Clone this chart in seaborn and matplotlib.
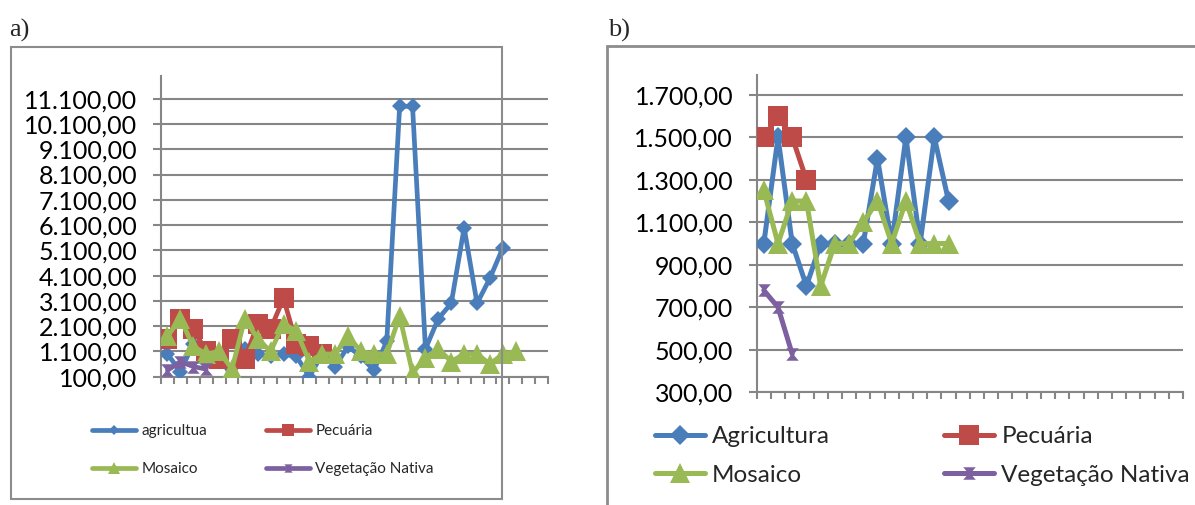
import numpy as np
import pandas as pd
import matplotlib
matplotlib.use("Agg")
import matplotlib.pyplot as plt
import seaborn as sns
from matplotlib.path import Path
from matplotlib.patches import Rectangle
from matplotlib.lines import Line2D
from matplotlib.ticker import FixedLocator, FuncFormatter, NullFormatter

# ---------------- data: chart a ----------------
a_agricultura = [1000, 300, 1400, 700, 900, 100, 1200, 1000, 900, 1000, 900, 100, 1000, 500,
                 1300, 900, 350, 1500, 10800, 10800, 1200, 2400, 3000, 6000, 3000, 4000, 5200]
a_pecuaria = [1600, 2400, 2000, 1100, 800, 1600, 800, 2200, 2000, 3200, 1400, 1300, 1000]
a_mosaico = [1700, 2400, 1300, 1000, 1100, 400, 2400, 1600, 1100, 2200, 1900, 700, 1000, 1000,
             1700, 1100, 1000, 1000, 2500, 250, 850, 1200, 700, 1000, 1000, 600, 1000, 1100]
a_vegetacao = [350, 700, 500, 400]
a_labels = ["agricultua", "Pecuária", "Mosaico", "Vegetação Nativa"]
a_yticks = [100, 1100, 2100, 3100, 4100, 5100, 6100, 7100, 8100, 9100, 10100, 11100]
a_ncat = 30

# ---------------- data: chart b ----------------
b_agricultura = [1000, 1500, 1000, 800, 1000, 1000, 1000, 1000, 1400, 1000, 1500, 1000, 1500, 1200]
b_pecuaria = [1500, 1600, 1500, 1300]
b_mosaico = [1250, 1000, 1200, 1200, 800, 1000, 1000, 1100, 1200, 1000, 1200, 1000, 1000, 1000]
b_vegetacao = [780, 700, 480]
b_labels = ["Agricultura", "Pecuária", "Mosaico", "Vegetação Nativa"]
b_yticks = [300, 500, 700, 900, 1100, 1300, 1500, 1700]
b_ncat = 30

COLORS = ["#4A7EBB", "#BE4B48", "#98B954", "#7D60A0"]
GRID = "#868686"

hourglass = Path([(-1, 1), (1, 1), (0.15, 0), (1, -1), (-1, -1), (-0.15, 0), (-1, 1)],
                 [Path.MOVETO, Path.LINETO, Path.LINETO, Path.LINETO, Path.LINETO,
                  Path.LINETO, Path.CLOSEPOLY])
MARKERS = ["D", "s", "^", hourglass]

sns.set_theme(style="white")
plt.rcParams["font.family"] = ["Lato", "DejaVu Sans"]

W, H = 1195, 505
fig = plt.figure(figsize=(W / 100, H / 100), dpi=100)


def fx(px):
    return px / W


def fy(py):
    return 1 - py / H


def fmt(v, pos=None):
    s = f"{v:,.2f}"
    return s.replace(",", "X").replace(".", ",").replace("X", ".")


def draw_panel(ax, series, labels, yticks, ncat, ylim, msizes, lw):
    frames = []
    for name, vals in zip(labels, series):
        frames.append(pd.DataFrame({"cat": np.arange(len(vals)), "valor": vals, "serie": name}))
    df = pd.concat(frames, ignore_index=True)
    for k, name in enumerate(labels):
        sub = df[df["serie"] == name]
        sns.lineplot(data=sub, x="cat", y="valor", ax=ax, color=COLORS[k], linewidth=lw,
                     marker=MARKERS[k], markersize=msizes[k], markeredgewidth=0,
                     estimator=None, sort=False, legend=False, zorder=3 + k)
    ax.set_xlim(-0.5, ncat - 0.5)
    ax.set_ylim(*ylim)
    ax.yaxis.set_major_locator(FixedLocator(yticks))
    ax.yaxis.set_major_formatter(FuncFormatter(fmt))
    ax.xaxis.set_major_locator(FixedLocator(np.arange(ncat + 1) - 0.5))
    ax.xaxis.set_major_formatter(NullFormatter())
    ax.set_xlabel("")
    ax.set_ylabel("")
    ax.grid(axis="y", color=GRID, linewidth=1.5, zorder=0)
    ax.grid(axis="x", visible=False)
    for s in ["top", "right"]:
        ax.spines[s].set_visible(False)
    for s in ["left", "bottom"]:
        ax.spines[s].set_color(GRID)
        ax.spines[s].set_linewidth(1.5)
    ax.tick_params(axis="y", direction="out", length=6, width=1.5, color=GRID,
                   labelsize=18, labelcolor="black", pad=11, left=True)
    ax.tick_params(axis="x", direction="out", length=5, width=1.5, color=GRID, bottom=True)
    ax.set_facecolor("none")


# ---------- outer frames ----------
fig.add_artist(Rectangle((fx(11), fy(499)), fx(502) - fx(11), fy(47) - fy(499),
                         transform=fig.transFigure, fill=False, edgecolor="#8C8C8C", linewidth=1.5))
fig.add_artist(Rectangle((fx(607), fy(520)), fx(1230) - fx(607), fy(46) - fy(520),
                         transform=fig.transFigure, fill=False, edgecolor="#8C8C8C", linewidth=2))

# ---------- panel a ----------
axa = fig.add_axes([fx(161), fy(376.7), fx(548) - fx(161), fy(76) - fy(376.7)])
draw_panel(axa, [a_agricultura, a_pecuaria, a_mosaico, a_vegetacao], a_labels, a_yticks,
           a_ncat, (100, 12000), [8.5, 14, 15, 9], 3.4)

# ---------- panel b ----------
axb = fig.add_axes([fx(756.7), fy(392.3), fx(1183) - fx(756.7), fy(75) - fy(392.3)])
draw_panel(axb, [b_agricultura, b_pecuaria, b_mosaico, b_vegetacao], b_labels, b_yticks,
           b_ncat, (300, 1793), [10, 14, 14, 9], 3.6)

# ---------- legends ----------
def make_handles(labels, msz, lw):
    return [Line2D([], [], color=COLORS[k], linewidth=lw, marker=MARKERS[k],
                   markersize=msz[k], markeredgewidth=0, label=labels[k]) for k in range(4)]

ha = make_handles(a_labels, [5, 8, 8, 6], 3.4)
fig.legend(handles=[ha[0], ha[2], ha[1], ha[3]], ncol=2, loc="upper left",
           bbox_to_anchor=(fx(92), fy(424)), bbox_transform=fig.transFigure,
           frameon=False, fontsize=11, handlelength=2.9, handletextpad=0.33,
           columnspacing=3.85, labelspacing=1.6, borderpad=0, borderaxespad=0)

hb = make_handles(b_labels, [10, 14, 14, 9], 3.6)
fig.legend(handles=[hb[0], hb[2], hb[1], hb[3]], ncol=2, loc="upper left",
           bbox_to_anchor=(fx(655), fy(426)), bbox_transform=fig.transFigure,
           frameon=False, fontsize=17.5, handlelength=2.06, handletextpad=0.29,
           columnspacing=4.7, labelspacing=0.72, borderpad=0, borderaxespad=0)

# ---------- panel letters ----------
fig.text(fx(9), fy(30), "a)", family=["Liberation Serif"], fontsize=19, va="center", ha="left")
fig.text(fx(608), fy(30), "b)", family=["Liberation Serif"], fontsize=19, va="center", ha="left")

fig.savefig("out.png", dpi=100, facecolor="white")
